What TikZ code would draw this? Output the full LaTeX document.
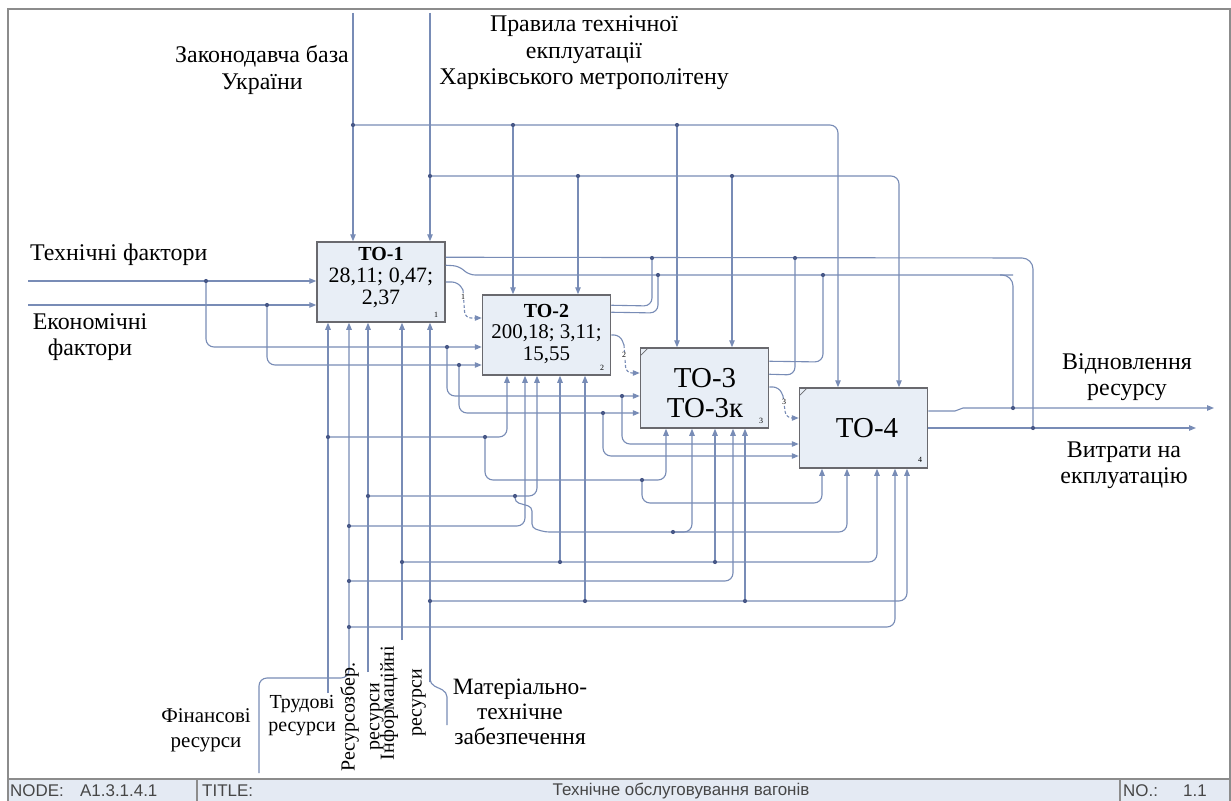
\documentclass[tikz,border=0pt]{standalone}
\usepackage{fontspec}
\setmainfont{Liberation Serif}
\newfontfamily\barfont{Liberation Sans}
\usetikzlibrary{arrows.meta,calc}
\definecolor{lnc}{RGB}{120,140,182}
\definecolor{dotc}{RGB}{72,88,135}
\definecolor{boxf}{RGB}{232,238,246}
\definecolor{boxb}{RGB}{105,105,110}
\definecolor{frm}{RGB}{140,140,140}
\definecolor{barf}{RGB}{228,234,243}
\definecolor{bartxt}{RGB}{70,70,70}
\begin{document}
\begin{tikzpicture}[x=1bp,y=-1bp,
 ln/.style={draw=lnc,line width=1.1bp},
 ar/.style={ln,-{Triangle[length=7bp,width=5.5bp]}},
 rc/.style={rounded corners=8bp},
 dot/.style={circle,fill=dotc,inner sep=0pt,minimum size=4.2bp},
 box/.style={draw=boxb,fill=boxf,line width=1.5bp,minimum width=128bp,minimum height=80bp,inner sep=0pt},
 btxt/.style={align=center,inner sep=0pt,font=\rmfamily\fontsize{22}{22}\selectfont},
 lab/.style={align=center,inner sep=0pt,font=\rmfamily\fontsize{24}{26.5}\selectfont},
 num/.style={inner sep=0.5bp,font=\rmfamily\fontsize{8}{8}\selectfont},
 bar/.style={inner sep=0pt,text=bartxt,font=\barfont\fontsize{17}{17}\selectfont},
]
\useasboundingbox (0,0) rectangle (1231,801);
\fill[white] (0,0) rectangle (1231,801);
% frame and bottom bar
\fill[barf] (8,779) rectangle (1230,801);
\draw[frm,line width=1.2bp] (8,801) -- (8,9) -- (1230,9) -- (1230,801);
\draw[frm,line width=1.6bp] (8,779) -- (1230,779);
\draw[frm,line width=1.2bp] (197,779) -- (197,801) (1120,779) -- (1120,801);
\node[bar,anchor=west] (nodeT) at (10,791) {NODE:};
\node[bar,anchor=west] (nodeV) at (80,791) {A1.3.1.4.1};
\node[bar,anchor=west] (titleT) at (202,791) {TITLE:};
\node[bar] (titleV) at (681,791) {Технічне обслуговування вагонів};
\node[bar,anchor=west] (noT) at (1123,791) {NO.:};
\node[bar,anchor=west] (noV) at (1183,791) {1.1};

% boxes
\node[box] (t1) at (381,282) {};
\node[box] (t2) at (546.5,335) {};
\node[box] (t3) at (704.5,388) {};
\node[box] (t4) at (863.5,428) {};
\node[btxt] (t1txt) at (381,278) {{\bfseries\fontsize{20}{22}\selectfont ТО-1}\\28,11; 0,47;\\2,37};
\node[btxt,font=\rmfamily\fontsize{21}{22}\selectfont] (t2txt) at (546.5,334) {{\bfseries\fontsize{20}{22}\selectfont ТО-2}\\200,18; 3,11;\\15,55};
\node[btxt,font=\rmfamily\fontsize{29}{30}\selectfont] (t3txt) at (705,393) {ТО-3\\ТО-3к};
\node[btxt,font=\rmfamily\fontsize{29}{30}\selectfont] (t4txt) at (867,428) {ТО-4};
\node[num] (n1) at (436,315) {1};
\node[num] (n2) at (602,368) {2};
\node[num] (n3) at (761,421) {3};
\node[num] (n4) at (920,460) {4};
\draw[boxb,line width=0.7bp] ($(t3.north west)+(1,8)$) -- ($(t3.north west)+(9,0)$);
\draw[boxb,line width=0.7bp] ($(t4.north west)+(1,8)$) -- ($(t4.north west)+(9,0)$);

% ---------- controls
\coordinate (c1s) at (353,13);
\coordinate (c2s) at (430,13);
\coordinate (j1) at (353,125);
\coordinate (j2) at (430,176);
\coordinate (j1a) at (513,125);
\coordinate (j1b) at (677,125);
\coordinate (j2a) at (578,176);
\coordinate (j2b) at (732,176);
\coordinate (k1) at (838,125);
\coordinate (k2) at (899,176);
\draw[ar] (c1s) -- (c1s |- t1.north);
\draw[ar] (c2s) -- (c2s |- t1.north);
\draw[ar,rc] (j1) -- (k1) -- (k1 |- t4.north);
\draw[ar,rc] (j2) -- (k2) -- (k2 |- t4.north);
\draw[ar] (j1a) -- (j1a |- t2.north);
\draw[ar] (j1b) -- (j1b |- t3.north);
\draw[ar] (j2a) -- (j2a |- t2.north);
\draw[ar] (j2b) -- (j2b |- t3.north);

% ---------- inputs
\coordinate (in1) at (28,281);
\coordinate (in2) at (28,305);
\coordinate (a1) at (206,281);
\coordinate (a2) at (267,305);
\coordinate (a3) at (447,347);
\coordinate (a4) at (459,365);
\coordinate (a5) at (622,396);
\coordinate (a6) at (603,413);
\coordinate (a7) at (700,444);
\coordinate (a8) at (700,456);
\draw[ar] (in1) -- (in1 -| t1.west);
\draw[ar] (in2) -- (in2 -| t1.west);
\draw[ar,rc] (a1) |- (a3) -- (a3 -| t2.west);
\draw[ar,rc] (a2) |- (a4) -- (a4 -| t2.west);
\draw[ar,rc] (a3) |- (a5) -- (a5 -| t3.west);
\draw[ar,rc] (a4) |- (a6) -- (a6 -| t3.west);
\draw[ar,rc] (a5) |- (a7) -- (a7 -| t4.west);
\draw[ar,rc] (a6) |- (a8) -- (a8 -| t4.west);

% ---------- outputs
\coordinate (o1) at (1033,428);
\coordinate (o2) at (1013,408);
\coordinate (e1) at (652,258);
\coordinate (e2) at (658,275);
\coordinate (e3) at (795,258);
\coordinate (e4) at (823,275);
\coordinate (outA) at (1214,408);
\coordinate (outB) at (1196,428);
\draw[ln,rounded corners=11bp] ($(t1.north east)+(0,16)$) -- (1033,258) -- (o1);
\draw[ln,rounded corners=6bp] ($(t1.north east)+(0,24)$) -- (459,266) -- (469,275) -- (1013,275);
\draw[ln,rounded corners=11bp] (1000,275) -- (1013,275) -- (o2);
\draw[ln,rounded corners=6bp] ($(t1.east)$) -- (458,282) -- (463,290);
\draw[ar,rounded corners=6bp,dash pattern=on 3bp off 2bp] (463,290) -- (465,318) -- ($(t2.west)+(0,-17)$);
\node[num,fill=white] (l1) at (463,297) {1};
\draw[ln,rc] ($(t2.north east)+(0,11)$) -- (652,306) -- (e1);
\draw[ln,rc] ($(t2.north east)+(0,18)$) -- (658,313) -- (e2);
\draw[ln,rounded corners=6bp] (t2.east) -- (620,335) -- (624,345);
\draw[ar,rounded corners=6bp,dash pattern=on 3bp off 2bp] (624,345) -- (626,373) -- ($(t3.west)+(0,-15)$);
\node[num,fill=white] (l2) at (624,355) {2};
\draw[ln,rc] ($(t3.north east)+(0,14)$) -- (823,362) -- (e4);
\draw[ln,rc] ($(t3.north east)+(0,27)$) -- (795,375) -- (e3);
\draw[ln,rounded corners=6bp] ($(t3.east)+(0,-1)$) -- (779,387) -- (783,396);
\draw[ar,rounded corners=6bp,dash pattern=on 3bp off 2bp] (783,396) -- (786,418) -- ($(t4.west)+(0,-10)$);
\node[num,fill=white] (l3) at (784,402) {3};
\draw[ar] ($(t4.east)+(0,-17)$) -- (955,411) -- (963,408) -- (outA);
\draw[ar] (t4.east) -- (outB);

% ---------- mechanisms
\coordinate (m1) at (328,693);
\coordinate (m2) at (349,678);
\coordinate (m3) at (368,672);
\coordinate (m4) at (402,640);
\coordinate (m5) at (430,682);
\coordinate (fin) at (259,773);
\coordinate (mat) at (447,725);
\draw[ar] (m1) -- (m1 |- t1.south);
\draw[ar,rc] (fin) |- (m2) -- (m2 |- t1.south);
\draw[ar] (m3) -- (m3 |- t1.south);
\draw[ar] (m4) -- (m4 |- t1.south);
\draw[ar] (m5) -- (m5 |- t1.south);
\draw[ln,rounded corners=5bp] (mat) -- (447,692) -- (430,684) -- (m5);

\coordinate (ma1) at (328,437);
\coordinate (ma2) at (485,437);
\coordinate (ma3) at (642,480);
\coordinate (mb1) at (368,496);
\coordinate (mb2) at (515,496);
\coordinate (mb3) at (673,532);
\coordinate (mc1) at (349,526);
\coordinate (md1) at (402,562);
\coordinate (md2) at (560,562);
\coordinate (md3) at (715,562);
\coordinate (me1) at (349,581);
\coordinate (mf1) at (430,601);
\coordinate (mf2) at (585,601);
\coordinate (mf3) at (745,601);
\coordinate (mg1) at (349,627);
\coordinate (x2a) at (507,0);
\coordinate (x2b) at (525,0);
\coordinate (x2c) at (537,0);
\coordinate (x3a) at (666,0);
\coordinate (x3b) at (692,0);
\coordinate (x3d) at (733,0);
\coordinate (x4a) at (822,0);
\coordinate (x4b) at (847,0);
\coordinate (x4c) at (877,0);
\coordinate (x4d) at (895,0);
\coordinate (x4e) at (907,0);

\draw[ar,rc] (ma1) -| (x2a |- t2.south);
\draw[ar,rc] (ma2) |- (ma3) -| (x3a |- t3.south);
\draw[ar,rc] (ma3) -- (642,503) -| (x4a |- t4.south);
\draw[ar,rc] (mb1) -| (x2c |- t2.south);
\draw[ln,rounded corners=4bp] (mb2) -- (515,502) -- (532,507) -- (532,528) -- (545,532) -- (mb3);
\draw[ar,rc] (mb3) -| (x3b |- t3.south);
\draw[ar,rc] (mb3) -| (x4b |- t4.south);
\draw[ar,rc] (mc1) -| (x2b |- t2.south);
\draw[ar] (md2) -- (md2 |- t2.south);
\draw[ar] (md3) -- (md3 |- t3.south);
\draw[ar,rc] (md1) -| (x4c |- t4.south);
\draw[ar,rc] (me1) -| (x3d |- t3.south);
\draw[ar] (mf2) -- (mf2 |- t2.south);
\draw[ar] (mf3) -- (mf3 |- t3.south);
\draw[ar,rc] (mf1) -| (x4e |- t4.south);
\draw[ar,rc] (mg1) -| (x4d |- t4.south);

% ---------- dots
\foreach \p in {j1,j2,j1a,j1b,j2a,j2b,a1,a2,a3,a4,a5,a6,e1,e2,e3,e4,o1,o2,
  ma1,ma2,ma3,mb1,mb2,mb3,mc1,md1,md2,md3,me1,mf1,mf2,mf3,mg1}
  \node[dot] at (\p) {};

% ---------- labels
\node[lab] (lzak) at (262,70) {Законодавча база\\України};
\node[lab] (lprav) at (584,53) {Правила технічної\\екплуатації\\Харківського метрополітену};
\node[lab,anchor=west] (ltech) at (30,255) {Технічні фактори};
\node[lab] (lecon) at (90,337) {Економічні\\фактори};
\node[lab] (lvid) at (1127,377) {Відновлення\\ресурсу};
\node[lab] (lvyt) at (1124,465) {Витрати на\\екплуатацію};
\node[lab,font=\rmfamily\fontsize{21}{25}\selectfont] (lfin) at (206,730) {Фінансові\\ресурси};
\node[lab,font=\rmfamily\fontsize{20}{23}\selectfont] (ltrud) at (302,716) {Трудові\\ресурси};
\node[lab,rotate=90,font=\rmfamily\fontsize{20}{25}\selectfont] (lres) at (362,717) {Ресурсозбер.\\ресурси};
\node[lab,rotate=90,font=\rmfamily\fontsize{20}{28}\selectfont] (linf) at (403,703) {Інформаційні\\ресурси};
\node[lab,font=\rmfamily\fontsize{23.5}{25}\selectfont] (lmat) at (520,712) {Матеріально-\\технічне\\забезпечення};
\end{tikzpicture}
\end{document}
